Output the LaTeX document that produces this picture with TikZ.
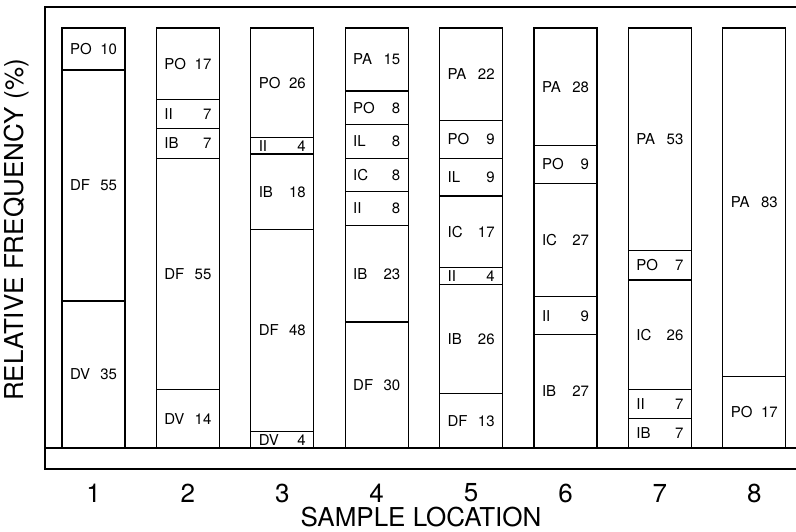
\documentclass[tikz,border=0pt]{standalone}
\usepackage{fontspec}
\setmainfont{TeX Gyre Heros}
\usepackage{tikz}

\newcommand{\seglab}[2]{\makebox[27pt][l]{#1}\makebox[20pt][r]{#2}}

\tikzset{
  seg/.style={shape=rectangle, draw=black, line width=1.1pt, inner sep=0pt,
    minimum width=63pt, font=\fontsize{15}{15}\selectfont},
  frame/.style={draw=black, line width=1.5pt},
  axislab/.style={inner sep=0pt, font=\fontsize{26}{26}\selectfont}
}

\begin{document}
\begin{tikzpicture}[x=1pt, y=1pt]
\useasboundingbox (0,-84) rectangle (796,448);

\draw[frame] (796,441) -- (45,441) -- (45,-21) -- (796,-21);
\draw[frame] (45,0) -- (796,0);

\foreach \col/\segs in {
  1/{PO/10,DF/55,DV/35},
  2/{PO/17,II/7,IB/7,DF/55,DV/14},
  3/{PO/26,II/4,IB/18,DF/48,DV/4},
  4/{PA/15,PO/8,IL/8,IC/8,II/8,IB/23,DF/30},
  5/{PA/22,PO/9,IL/9,IC/17,II/4,IB/26,DF/13},
  6/{PA/28,PO/9,IC/27,II/9,IB/27},
  7/{PA/53,PO/7,IC/26,II/7,IB/7},
  8/{PA/83,PO/17}}
{
  \foreach \ab/\pc [remember=\lo as \hi (initially 100), evaluate=\pc as \lo using \hi-\pc] in \segs
    \node[seg, minimum height={4.2pt*\pc}](b\col\ab) at ({93.5+94.4*(\col-1)}, {4.2*(\hi-\pc/2)}) {\seglab{\ab}{\pc}};
  \node[axislab](n\col) at ({93.5+94.4*(\col-1)}, -45) {\col};
}

\node[axislab](xlab) at (421,-69.5) {SAMPLE LOCATION};
\node[axislab, rotate=90](ylab) at (17,218) {RELATIVE FREQUENCY (\%)};
\end{tikzpicture}
\end{document}
